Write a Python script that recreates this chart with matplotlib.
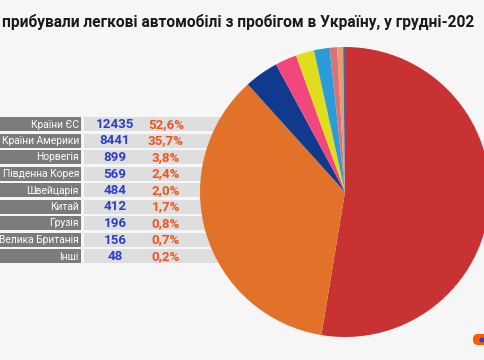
import matplotlib.pyplot as plt
from matplotlib.patches import Rectangle, FancyBboxPatch, Circle

plt.rcParams['font.family'] = ['Roboto', 'DejaVu Sans']

# data
countries = ['Країни ЄС', 'Країни Америки', 'Норвегія', 'Південна Корея', 'Швейцарія',
             'Китай', 'Грузія', 'Велика Британія', 'Інші']
counts = [12435, 8441, 899, 569, 484, 412, 196, 156, 48]
shares = ['52,6%', '35,7%', '3,8%', '2,4%', '2,0%', '1,7%', '0,8%', '0,7%', '0,2%']
colors = ['#c93232', '#e2712a', '#0f3a8e', '#f2477c', '#dede1c', '#2b9bd9',
          '#d9737a', '#eb9c6c', '#3d6cb2']
title = 'прибували легкові автомобілі з пробігом в Україну, у грудні-202'

bg = '#f6f6f6'
fig = plt.figure(figsize=(4.85, 3.6), dpi=100, facecolor=bg)

# pixel-space axes for title and table
ax = fig.add_axes([0, 0, 1, 1])
ax.set_xlim(0, 485)
ax.set_ylim(360, 0)
ax.axis('off')

ax.text(2, 22, title, fontsize=11.2, fontweight='bold', color='#1a1a1a',
        ha='left', va='center')

y0, step, h = 124, 16.5, 14
for i, (c, n, s) in enumerate(zip(countries, counts, shares)):
    y = y0 + i * step
    ax.add_patch(Rectangle((0, y - h / 2), 81, h, color='#7b7b7b', lw=0))
    ax.add_patch(Rectangle((84, y - h / 2), 160, h, color='#dedede', lw=0))
    ax.text(79, y + 0.5, c, color='white', fontsize=7.4, ha='right', va='center')
    ax.text(115, y + 0.5, str(n), color='#2b3fcc', fontsize=9.6, fontweight='bold',
            ha='center', va='center')
    ax.text(166, y + 0.5, s, color='#f2541f', fontsize=9.6, fontweight='bold',
            ha='center', va='center')

# small logo mark in the corner
ax.add_patch(FancyBboxPatch((473, 334), 18, 11, boxstyle='round,pad=0,rounding_size=5',
                            color='#ff5a00', lw=0))
ax.add_patch(Circle((482, 340), 2.5, color='#2b3fcc', lw=0))

# pie
cx, cy, r = 345, 192, 145
pax = fig.add_axes([(cx - r) / 485, (360 - cy - r) / 360, 2 * r / 485, 2 * r / 360])
pax.pie(counts, colors=colors, startangle=90, counterclock=False, radius=1,
        wedgeprops=dict(linewidth=0))
pax.set_xlim(-1, 1)
pax.set_ylim(-1, 1)
pax.axis('off')

fig.savefig('out.png', dpi=100, facecolor=bg)
